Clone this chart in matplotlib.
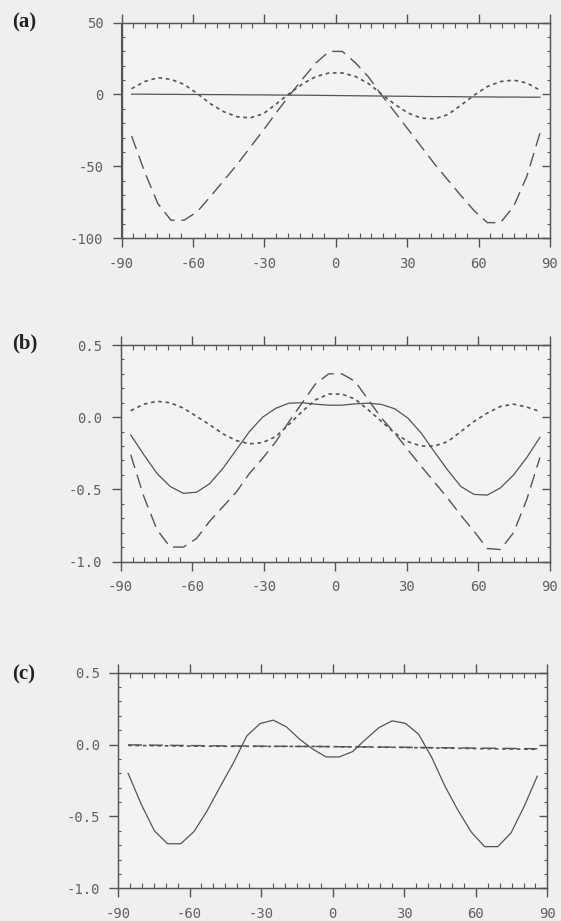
import numpy as np
import matplotlib.pyplot as plt
from matplotlib.ticker import MultipleLocator

plt.rcParams['axes.unicode_minus'] = False

# Gaussian latitudes (T21 grid)
lat = [-85.76, -80.27, -74.74, -69.21, -63.68, -58.14, -52.61, -47.07, -41.54, -36.00,
       -30.46, -24.92, -19.39, -13.85, -8.31, -2.77, 2.77, 8.31, 13.85, 19.39,
       24.92, 30.46, 36.00, 41.54, 47.07, 52.61, 58.14, 63.68, 69.21, 74.74,
       80.27, 85.76]

# panel (a)
a_solid = [0.2, 0.2, 0.1, 0.1, 0.0, 0.0, -0.1, -0.1, -0.2, -0.3, -0.3, -0.4, -0.5, -0.5,
           -0.6, -0.7, -0.8, -0.9, -1.0, -1.1, -1.2, -1.3, -1.4, -1.5, -1.5, -1.6, -1.7,
           -1.7, -1.8, -1.8, -1.9, -1.9]
a_dash = [-29, -54, -76, -87.6, -87.6, -81.6, -71, -60, -49, -37, -25, -12.5, -0.5, 11,
          22, 30, 30, 22, 12, -0.7, -12.5, -24.5, -36.5, -48.5, -59.5, -70.5, -81, -89.3,
          -89.3, -78, -57, -27]
a_dot = [4, 9, 11.7, 10.5, 7, 0.6, -6.5, -12, -15.5, -16.3, -13.5, -6.5, 0.8, 7.5, 12.5,
         15, 15, 12.5, 7.5, 0, -7, -13, -16.5, -17, -14, -7.5, -0.5, 5.5, 9, 10, 8, 3]

# panel (b)
b_solid = [-0.123, -0.26, -0.39, -0.48, -0.528, -0.52, -0.46, -0.354, -0.227, -0.10, 0.0,
           0.062, 0.097, 0.10, 0.09, 0.083, 0.083, 0.092, 0.097, 0.088, 0.058, -0.007,
           -0.11, -0.24, -0.366, -0.48, -0.535, -0.54, -0.49, -0.40, -0.28, -0.14]
b_dash = [-0.26, -0.55, -0.78, -0.90, -0.90, -0.84, -0.72, -0.62, -0.52, -0.39, -0.285,
          -0.17, -0.03, 0.10, 0.23, 0.30, 0.30, 0.248, 0.12, -0.007, -0.11, -0.227, -0.34,
          -0.45, -0.56, -0.68, -0.79, -0.91, -0.917, -0.80, -0.57, -0.28]
b_dot = [0.045, 0.09, 0.11, 0.10, 0.063, 0.005, -0.053, -0.116, -0.162, -0.185, -0.176,
         -0.134, -0.05, 0.04, 0.12, 0.16, 0.16, 0.125, 0.05, -0.03, -0.11, -0.17, -0.20,
         -0.20, -0.17, -0.10, -0.03, 0.028, 0.074, 0.09, 0.07, 0.04]

# panel (c)
c_solid = [-0.20, -0.415, -0.60, -0.69, -0.69, -0.605, -0.46, -0.29, -0.125, 0.06, 0.146,
           0.17, 0.123, 0.037, -0.032, -0.086, -0.086, -0.049, 0.037, 0.118, 0.165, 0.148,
           0.072, -0.09, -0.29, -0.46, -0.61, -0.71, -0.71, -0.615, -0.43, -0.22]
c_dash = [-0.002, -0.003, -0.004, -0.005, -0.006, -0.007, -0.008, -0.009, -0.010, -0.010,
          -0.011, -0.012, -0.012, -0.013, -0.013, -0.014, -0.015, -0.016, -0.016, -0.017,
          -0.018, -0.019, -0.020, -0.021, -0.022, -0.023, -0.024, -0.025, -0.026, -0.027,
          -0.028, -0.029]
c_dot = [-0.006, -0.007, -0.008, -0.009, -0.010, -0.011, -0.011, -0.012, -0.012, -0.012,
         -0.013, -0.013, -0.013, -0.013, -0.013, -0.014, -0.015, -0.016, -0.017, -0.018,
         -0.019, -0.020, -0.022, -0.023, -0.025, -0.026, -0.027, -0.029, -0.030, -0.031,
         -0.032, -0.033]

xticks = [-90, -60, -30, 0, 30, 60, 90]
LC = '#555555'
TC = '#606060'
DASH = (0, (10, 5))
DOT = (0, (2.2, 2.2))

fig = plt.figure(figsize=(5.61, 9.21), dpi=100, facecolor='#efefef')


def style(ax, ylim, ymajor, yminor, yticks, ylabels):
    ax.set_facecolor('#f3f3f3')
    ax.set_xlim(-90, 90)
    ax.set_ylim(*ylim)
    ax.set_xticks(xticks)
    ax.set_xticklabels([str(t) for t in xticks])
    ax.xaxis.set_minor_locator(MultipleLocator(5))
    ax.set_yticks(yticks)
    ax.set_yticklabels(ylabels)
    ax.yaxis.set_minor_locator(MultipleLocator(yminor))
    for s in ax.spines.values():
        s.set_color(LC)
        s.set_linewidth(1.0)
    ax.tick_params(axis='x', which='major', direction='out', length=6.5, width=1.0,
                   color=LC, top=True, pad=7, labelsize=10, labelcolor=TC)
    ax.tick_params(axis='x', which='minor', direction='in', length=3.5, width=0.8,
                   color=LC, top=True)
    ax.tick_params(axis='y', which='major', direction='out', length=6.5, width=1.0,
                   color=LC, pad=6.5, labelsize=10, labelcolor=TC)
    ax.tick_params(axis='y', which='minor', direction='in', length=2.5, width=0.8,
                   color=LC)
    for lab in ax.get_xticklabels() + ax.get_yticklabels():
        lab.set_family('DejaVu Sans Mono')
    # right side: inward ticks
    ax2 = ax.twinx()
    ax2.set_ylim(*ylim)
    ax2.set_yticks(yticks)
    ax2.yaxis.set_minor_locator(MultipleLocator(yminor))
    ax2.tick_params(axis='y', which='major', direction='in', length=6, width=1.0,
                    color=LC, labelright=False)
    ax2.tick_params(axis='y', which='minor', direction='in', length=2.5, width=0.8,
                    color=LC)
    for s in ax2.spines.values():
        s.set_color(LC)


# (a)
ax = fig.add_axes([121.5 / 561, 1 - 238 / 921, 428.5 / 561, 215.3 / 921])
style(ax, (-100, 50), 50, 10, [-100, -50, 0, 50], ['-100', '-50', '0', '50'])
ax.plot(lat, a_solid, color=LC, lw=0.9)
ax.plot(lat, a_dash, color=LC, lw=1.0, ls=DASH)
ax.plot(lat, a_dot, color=LC, lw=1.2, ls=DOT)

# (b)
ax = fig.add_axes([120.6 / 561, 1 - 561.5 / 921, 429.4 / 561, 216.5 / 921])
style(ax, (-1.0, 0.5), 0.5, 0.1, [-1.0, -0.5, 0.0, 0.5], ['-1.0', '-0.5', '0.0', '0.5'])
ax.plot(lat, b_solid, color=LC, lw=0.9)
ax.plot(lat, b_dash, color=LC, lw=1.0, ls=DASH)
ax.plot(lat, b_dot, color=LC, lw=1.2, ls=DOT)

# (c)
ax = fig.add_axes([118 / 561, 1 - 888.3 / 921, 429.4 / 561, 215.6 / 921])
style(ax, (-1.0, 0.5), 0.5, 0.1, [-1.0, -0.5, 0.0, 0.5], ['-1.0', '-0.5', '0.0', '0.5'])
ax.plot(lat, c_solid, color=LC, lw=0.9)
ax.plot(lat, c_dash, color=LC, lw=1.0, ls=DASH)
ax.plot(lat, c_dot, color=LC, lw=1.2, ls=DOT)

# panel labels
for lab, y in [('(a)', 22), ('(b)', 343), ('(c)', 674)]:
    fig.text(12 / 561, 1 - y / 921, lab, fontsize=15, fontweight='bold',
             family='Liberation Serif', color='#222222', va='center', ha='left')

fig.savefig('out.png', dpi=100, facecolor=fig.get_facecolor())
